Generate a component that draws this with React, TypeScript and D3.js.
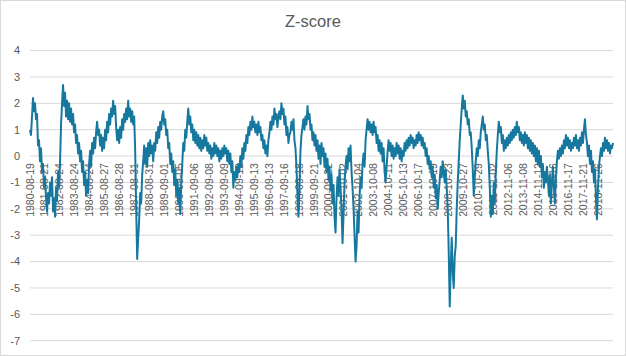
import React from "react";
import * as d3 from "d3";

const title = "Z-score";
const yTicks = [4, 3, 2, 1, 0, -1, -2, -3, -4, -5, -6, -7];
const dateLabels = [
  "1980-08-19", "1981-08-21", "1982-08-24", "1983-08-24", "1984-08-24",
  "1985-08-27", "1986-08-28", "1987-08-31", "1988-08-31", "1989-09-01",
  "1990-09-05", "1991-09-06", "1992-09-08", "1993-09-09", "1994-09-12",
  "1995-09-13", "1996-09-13", "1997-09-16", "1998-09-18", "1999-09-21",
  "2000-09-22", "2001-10-02", "2002-10-04", "2003-10-08", "2004-10-11",
  "2005-10-13", "2006-10-17", "2007-10-19", "2008-10-23", "2009-10-27",
  "2010-10-29", "2011-11-02", "2012-11-06", "2013-11-08", "2014-11-12",
  "2015-11-16", "2016-11-17", "2017-11-21", "2018-11-26",
];
const zscore = [
  1.0, 0.8, 1.5, 2.2, 1.7, 2.0, 1.4, 1.6, 0.4, 0.6,
  -0.2, 0.3, -0.6, -0.3, -1.2, -0.8, -1.6, -2.1, -1.4, -1.8,
  -1.0, -1.5, -0.8, -2.1, -1.6, -2.3, -1.2, -1.7, -0.6, -1.2,
  -0.2, 1.2, 2.0, 2.7, 1.9, 2.4, 1.5, 2.1, 1.4, 2.0,
  1.3, 1.8, 1.2, 1.6, 0.9, 1.2, 0.5, 0.8, 0.1, 0.5,
  -0.2, 0.2, -0.6, -0.2, -1.1, -0.6, -1.5, -0.9, -1.4, -0.3,
  0.2, -0.4, 0.5, 0.1, 0.7, 0.3, 0.9, 1.3, 0.8, 1.0,
  0.4, 0.8, 0.2, 0.7, 0.3, 1.0, 0.6, 1.3, 0.9, 1.6,
  1.2, 1.8, 1.5, 2.1, 1.6, 1.9, 1.1, 0.6, 1.0, 0.5,
  1.1, 0.7, 1.4, 1.0, 1.6, 1.3, 1.8, 1.4, 2.1, 1.5,
  1.8, 1.3, 1.7, 1.2, 1.5, 0.2, -2.0, -3.9, -3.1, -2.4,
  -1.4, -1.8, -0.7, -0.2, 0.4, -0.3, 0.3, -0.4, 0.5, 0.0,
  0.6, 0.1, 0.4, -0.2, 0.5, 0.2, 0.9, 0.5, 1.1, 0.7,
  1.3, 1.0, 1.5, 1.7, 1.2, 1.4, 0.8, 1.0, 0.3, 0.5,
  -0.3, 0.1, -0.6, -0.2, -1.1, -0.5, -1.5, -0.9, -1.8, -1.2,
  -2.2, -1.0, -0.3, 0.5, 0.2, 1.0, 0.7, 1.3, 1.8, 1.2,
  1.5, 0.9, 1.2, 0.6, 1.0, 0.5, 0.9, 0.4, 0.8, 0.3,
  0.7, 0.2, 0.6, 0.3, 0.8, 0.4, 0.7, 0.2, 0.5, 0.1,
  0.4, -0.1, 0.3, 0.0, 0.5, 0.1, 0.4, 0.0, 0.3, -0.2,
  0.2, -0.1, 0.3, 0.0, 0.4, 0.1, 0.3, -0.2, 0.2, -0.3,
  0.1, -0.6, -0.2, -1.2, -0.6, -0.9, -0.4, -0.8, -0.3, -0.6,
  0.0, -0.4, 0.3, -0.1, 0.5, 0.2, 0.8, 0.5, 1.1, 0.8,
  1.3, 1.0, 1.5, 1.1, 1.3, 0.9, 1.2, 0.8, 1.3, 0.9,
  1.1, 0.6, 0.8, 0.3, 0.6, 0.1, 0.4, 0.0, 0.6, 0.9,
  1.3, 1.0, 1.5, 1.2, 1.8, 1.4, 1.6, 1.1, 1.5, 1.7,
  1.4, 2.0, 1.6, 1.8, 1.2, 1.5, 0.8, 1.1, 0.5, 0.8,
  0.9, 1.3, 1.0, 1.4, 0.6, 0.3, -0.4, -1.5, -2.3, -1.2,
  0.2, 0.8, 1.1, 1.4, 1.0, 1.5, 1.2, 1.9, 1.4, 1.6,
  1.0, 1.2, 0.6, 0.9, 0.4, 0.8, 0.2, 0.6, -0.1, 0.4,
  -0.3, 0.5, 0.0, 0.3, -0.4, 0.1, -0.6, -0.1, -0.9, -0.4,
  -1.3, -0.7, -1.8, -1.1, -2.3, -2.9, -1.6, -0.8, -1.5, -0.5,
  -1.2, -2.0, -3.3, -2.2, -1.0, -0.4, 0.0, -0.5, 0.3, -0.2,
  0.4, -0.6, -1.2, -2.0, -3.0, -4.0, -3.4, -2.1, -2.9, -1.5,
  -0.8, -1.2, -0.3, 0.1, -0.4, 0.6, 1.0, 1.4, 1.0, 1.3,
  0.9, 1.2, 0.8, 1.3, 0.9, 1.1, 0.5, 0.8, 0.2, 0.6,
  0.1, 0.5, -0.2, 0.3, -0.6, -1.0, -0.4, 0.2, 0.6, 0.2,
  0.5, 0.0, 0.4, -0.1, 0.3, 0.0, 0.5, 0.1, 0.4, -0.1,
  0.3, -0.2, 0.2, 0.0, 0.5, 0.2, 0.6, 0.3, 0.7, 0.4,
  0.8, 0.5, 0.7, 0.3, 0.6, 0.4, 0.8, 0.5, 0.9, 0.6,
  0.8, 0.4, 0.7, 0.3, 0.5, 0.0, 0.3, -0.3, 0.0, -0.5,
  -0.2, -0.8, -0.4, -1.2, -0.7, -1.6, -1.1, -2.0, -1.4, -0.9,
  -0.4, -0.8, -0.2, -0.6, -1.0, -0.5, -1.2, -2.0, -3.6, -5.7,
  -4.2, -3.1, -4.4, -5.0, -3.8, -3.4, -2.0, -1.0, -0.2, 0.6,
  1.2, 1.8, 2.3, 1.8, 2.1, 1.5, 1.7, 1.2, 1.4, 0.8,
  0.9, 0.3, -0.5, -1.5, -0.8, -0.2, 0.3, 0.0, 0.6, 0.3,
  0.9, 1.2, 1.5, 1.0, 1.2, 0.6, 0.8, 0.2, -0.3, -1.2,
  -2.3, -1.5, -2.2, -1.0, -1.8, -0.6, 0.2, 0.8, 1.3, 0.9,
  1.1, 0.5, 0.8, 0.2, 0.6, 0.3, 0.7, 0.4, 0.8, 0.5,
  0.9, 0.6, 1.0, 0.7, 1.1, 0.8, 1.3, 0.9, 1.1, 0.6,
  0.9, 0.5, 0.8, 0.4, 0.9, 0.5, 0.8, 0.3, 0.7, 0.2,
  0.6, 0.1, 0.5, 0.0, 0.4, -0.2, 0.3, -0.3, 0.2, -0.4,
  0.0, -0.8, -0.3, -1.2, -0.6, -1.0, -0.4, -0.9, -1.5, -0.7,
  -1.8, -1.0, -0.4, -1.2, -1.8, -0.8, -0.2, 0.2, -0.1, 0.3,
  0.0, 0.4, 0.1, 0.6, 0.3, 0.8, 0.4, 0.7, 0.3, 0.6,
  0.2, 0.5, 0.3, 0.7, 0.4, 0.8, 0.3, 0.6, 0.2, 0.7,
  0.4, 0.9, 0.5, 1.0, 1.4, 0.8, 0.5, 0.0, 0.4, -0.3,
  0.2, -0.6, -0.2, -1.0, -0.5, -1.6, -2.4, -1.2, -0.4, 0.0,
  0.3, 0.0, 0.5, 0.2, 0.7, 0.3, 0.6, 0.2, 0.5, 0.1,
  0.4, 0.3, 0.5,
];

const W = 626;
const H = 356;
const FONT = "'Liberation Sans', Arial, sans-serif";
const TEXT = "#595959";
const GRID = "#d9d9d9";
const LINE = "#16789f";

export default function App() {
  const nYears = dateLabels.length; // 39 intervals in the plotted span
  const x = d3.scaleLinear().domain([0, nYears]).range([30, 613]);
  const y = d3.scaleLinear().domain([-7, 4]).range([340.7, 50.6]);
  const step = nYears / (zscore.length - 1);
  const line = d3
    .line<number>()
    .x((_, i) => x(i * step))
    .y((d) => y(d));

  return (
    <svg
      width={W}
      height={H}
      style={{ position: "absolute", left: 0, top: 0, background: "#fff" }}
      fontFamily={FONT}
    >
      <rect x={0.5} y={0.5} width={W - 1} height={H - 1} fill="#fff" stroke={GRID} />
      <text x={313} y={27} textAnchor="middle" fontSize={16.5} fill={TEXT}>
        {title}
      </text>
      {yTicks.map((t) => (
        <g key={t}>
          <line x1={30} x2={613} y1={y(t)} y2={y(t)} stroke={GRID} strokeWidth={1} />
          <text
            x={20}
            y={y(t)}
            dy="0.35em"
            textAnchor="end"
            fontSize={11}
            fill={TEXT}
          >
            {t < 0 ? "-" + Math.abs(t) : String(t)}
          </text>
        </g>
      ))}
      {dateLabels.map((d, i) => (
        <text
          key={d}
          transform={`translate(${x(i) + 3.5},${y(0) + 7}) rotate(-90)`}
          textAnchor="end"
          fontSize={10.5}
          fill={TEXT}
        >
          {d}
        </text>
      ))}
      <path
        d={line(zscore) || ""}
        fill="none"
        stroke={LINE}
        strokeWidth={2}
        strokeLinejoin="round"
      />
    </svg>
  );
}
